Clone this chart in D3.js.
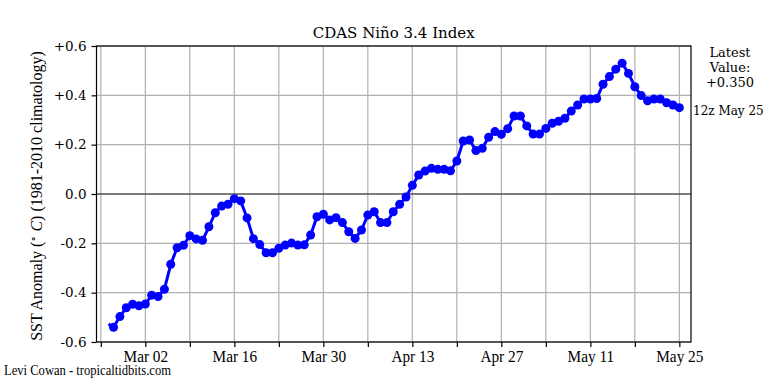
<!DOCTYPE html>
<html>
<head>
<meta charset="utf-8">
<script src="https://cdn.jsdelivr.net/npm/d3@7"></script>
<style>
  body { margin: 0; background: #fff; }
  svg { display: block; }
</style>
</head>
<body>
<div id="chart"></div>
<script>
// daily Nino 3.4 anomalies, Feb 25 .. May 25 (one per day)
var startDay = "2025-02-25";
var anomalies = [
  -0.540, -0.497, -0.461, -0.447,
  -0.453, -0.446, -0.410, -0.416, -0.386, -0.285, -0.218, -0.208, -0.169, -0.182,
  -0.188, -0.133, -0.076, -0.049, -0.042, -0.019, -0.028, -0.097, -0.181, -0.205,
  -0.238, -0.238, -0.220, -0.207, -0.199, -0.207, -0.206, -0.166, -0.092, -0.082, -0.105,
  -0.096, -0.116, -0.153, -0.180, -0.146, -0.085, -0.072, -0.116, -0.116, -0.072,
  -0.042, -0.012, 0.035, 0.077, 0.093, 0.104, 0.100, 0.100, 0.094, 0.134,
  0.215, 0.219, 0.176, 0.185, 0.230, 0.253, 0.242, 0.265, 0.316, 0.316,
  0.276, 0.243, 0.243, 0.266, 0.287, 0.295, 0.307, 0.336, 0.361, 0.385,
  0.385, 0.387, 0.445, 0.476, 0.506, 0.530, 0.489, 0.435, 0.399, 0.378,
  0.385, 0.385, 0.370, 0.361, 0.350
];
// line starts a little before the first marked value
var leadTime = "2025-02-24T05:00:00Z";
var leadValue = -0.527;

var yTicks = [-0.6, -0.4, -0.2, 0.0, 0.2, 0.4, 0.6];
var xLabelTicks = ["2025-03-02", "2025-03-16", "2025-03-30", "2025-04-13", "2025-04-27", "2025-05-11", "2025-05-25"];
var xDomain = ["2025-02-22T07:40:00Z", "2025-05-26T20:00:00Z"];
var latestLabel = ["Latest", "Value:", "+0.350"];
var latestTime = "12z May 25";

var W = 768, H = 384;
var margin = {top: 46, right: 77, bottom: 42, left: 96.5};
var width = W - margin.left - margin.right,
    height = H - margin.top - margin.bottom;

var parse = d3.utcParse("%Y-%m-%d");
var fmtKey = d3.utcFormat("%Y-%m-%d");

var data = anomalies.map(function(v, i) {
  return {date: d3.utcDay.offset(parse(startDay), i), value: v};
});
var lineData = [{date: new Date(leadTime), value: leadValue}].concat(data);

var x = d3.scaleUtc()
  .domain(xDomain.map(function(d){ return new Date(d); }))
  .range([0, width]);
var y = d3.scaleLinear().domain([-0.6, 0.6]).range([height, 0]);

var svg = d3.select("#chart").append("svg")
  .attr("width", W).attr("height", H);

var g = svg.append("g")
  .attr("transform", "translate(" + margin.left + "," + margin.top + ")");

// weekly ticks / grid, anchored on the labelled dates
var weekTicks = d3.range(-1, 13).map(function(k){ return d3.utcDay.offset(parse(xLabelTicks[0]), 7*k); })
  .filter(function(d){ return x(d) >= 0 && x(d) <= width; });

g.selectAll(".vgrid").data(weekTicks).enter().append("line")
  .attr("x1", function(d){ return x(d); }).attr("x2", function(d){ return x(d); })
  .attr("y1", 0).attr("y2", height)
  .attr("stroke", "#b0b0b0").attr("stroke-width", 1.2);

g.selectAll(".hgrid").data(yTicks.filter(function(t){ return t !== 0; })).enter().append("line")
  .attr("x1", 0).attr("x2", width)
  .attr("y1", function(d){ return y(d); }).attr("y2", function(d){ return y(d); })
  .attr("stroke", "#b0b0b0").attr("stroke-width", 1.2);

// zero line
g.append("line")
  .attr("x1", 0).attr("x2", width)
  .attr("y1", y(0)).attr("y2", y(0))
  .attr("stroke", "#505050").attr("stroke-width", 1.5);

// series
var line = d3.line()
  .x(function(d){ return x(d.date); })
  .y(function(d){ return y(d.value); });

g.append("path")
  .datum(lineData)
  .attr("d", line)
  .attr("fill", "none")
  .attr("stroke", "#0000ff")
  .attr("stroke-width", 3)
  .attr("stroke-linejoin", "round");

g.selectAll(".pt").data(data).enter().append("circle")
  .attr("cx", function(d){ return x(d.date); })
  .attr("cy", function(d){ return y(d.value); })
  .attr("r", 4.5)
  .attr("fill", "#0000ff");

// frame
g.append("rect")
  .attr("width", width).attr("height", height)
  .attr("fill", "none").attr("stroke", "#000").attr("stroke-width", 1.2);

// x axis
var xAxis = d3.axisBottom(x)
  .tickValues(weekTicks)
  .tickSize(5)
  .tickFormat(function(d){
    return xLabelTicks.indexOf(fmtKey(d)) >= 0 ? d3.utcFormat("%b %d")(d) : "";
  });
var xg = g.append("g").attr("transform", "translate(0," + height + ")").call(xAxis);
xg.select(".domain").remove();
xg.selectAll("line").attr("stroke", "#000").attr("stroke-width", 1.2);
xg.selectAll("text")
  .attr("font-family", "'Liberation Serif', serif")
  .attr("font-size", 17)
  .attr("fill", "#000")
  .attr("y", 20)
  .attr("dy", 0)
  .attr("transform", "scale(0.9,1)");

// y axis
var yAxis = d3.axisLeft(y)
  .tickValues(yTicks)
  .tickSize(5)
  .tickFormat(function(d){ return d > 0 ? "+" + d3.format(".1f")(d) : d3.format(".1f")(d).replace("−", "-"); });
var yg = g.append("g").call(yAxis);
yg.select(".domain").remove();
yg.selectAll("line").attr("stroke", "#000").attr("stroke-width", 1.2);
yg.selectAll("text")
  .attr("font-family", "'DejaVu Serif', serif")
  .attr("font-size", 13.5)
  .attr("fill", "#000")
  .attr("x", -10);

// title
svg.append("text")
  .attr("x", margin.left + width / 2).attr("y", 38)
  .attr("text-anchor", "middle")
  .attr("font-family", "'DejaVu Serif', serif")
  .attr("font-size", 15)
  .text("CDAS Niño 3.4 Index");

// y label
var ylab = svg.append("text")
  .attr("transform", "translate(42," + (margin.top + height / 2 + 2) + ") rotate(-90)")
  .attr("text-anchor", "middle")
  .attr("font-family", "'Liberation Serif', serif")
  .attr("font-size", 16);
ylab.append("tspan").text("SST Anomaly (");
ylab.append("tspan").attr("font-size", 10).attr("dy", -6).text("∘");
ylab.append("tspan").attr("dy", 6).attr("font-style", "italic").text(" C");
ylab.append("tspan").text(") (1981-2010 climatology)");

// latest value box
svg.selectAll(".latest").data(latestLabel).enter().append("text")
  .attr("x", 730)
  .attr("y", function(d, i){ return 57 + i * 15; })
  .attr("text-anchor", "middle")
  .attr("font-family", "'DejaVu Serif', serif")
  .attr("font-size", 13)
  .text(function(d){ return d; });

svg.append("text")
  .attr("x", 693).attr("y", 115)
  .attr("font-family", "'DejaVu Serif', serif")
  .attr("font-size", 12)
  .text(latestTime);

// credit
svg.append("text")
  .attr("transform", "translate(4,375) scale(0.9,1)")
  .attr("font-family", "'Liberation Serif', serif")
  .attr("font-size", 14)
  .text("Levi Cowan - tropicaltidbits.com");
</script>
</body>
</html>
